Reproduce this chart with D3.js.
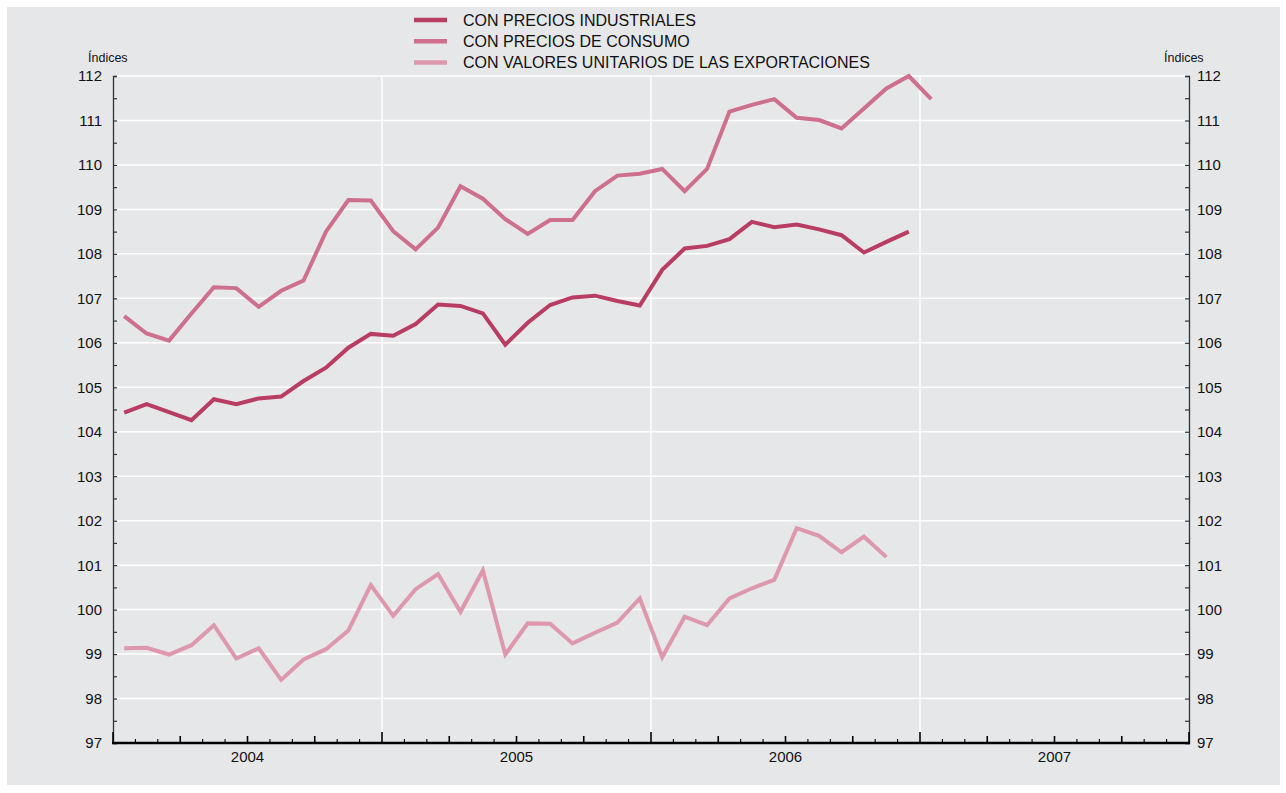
<!DOCTYPE html>
<html>
<head>
<meta charset="utf-8">
<script src="https://cdn.jsdelivr.net/npm/d3@7"></script>
<style>
  html, body { margin: 0; padding: 0; background: #ffffff; }
  svg { display: block; font-family: "Liberation Sans", Arial, Helvetica, sans-serif; }
</style>
</head>
<body>
<svg id="chart" width="1286" height="793"></svg>
<script>
// ---- Data (monthly, starting January 2004) ----
const years = ["2004", "2005", "2006", "2007"];
const seriesNames = [
  "CON PRECIOS INDUSTRIALES",
  "CON PRECIOS DE CONSUMO",
  "CON VALORES UNITARIOS DE LAS EXPORTACIONES"
];
const industriales = [
  104.43, 104.62, 104.44, 104.26, 104.73, 104.62, 104.75, 104.79, 105.14, 105.44,
  105.89, 106.20, 106.16, 106.42, 106.86, 106.83, 106.66, 105.96, 106.45, 106.85,
  107.02, 107.06, 106.94, 106.84, 107.64, 108.12, 108.18, 108.33, 108.72, 108.60,
  108.66, 108.55, 108.42, 108.03, 108.27, 108.50
];
const consumo = [
  106.60, 106.21, 106.05, 106.66, 107.25, 107.23, 106.81, 107.17, 107.40, 108.50,
  109.21, 109.20, 108.51, 108.10, 108.59, 109.52, 109.24, 108.78, 108.45, 108.76,
  108.76, 109.41, 109.76, 109.80, 109.91, 109.41, 109.91, 111.20, 111.35, 111.48,
  111.06, 111.01, 110.82, 111.27, 111.72, 112.00, 111.48
];
const exportaciones = [
  99.13, 99.14, 98.99, 99.20, 99.65, 98.90, 99.13, 98.42, 98.88, 99.11,
  99.53, 100.55, 99.86, 100.46, 100.80, 99.95, 100.88, 98.99, 99.69, 99.68,
  99.24, 99.48, 99.71, 100.25, 98.93, 99.84, 99.65, 100.25, 100.48, 100.67,
  101.83, 101.66, 101.29, 101.64, 101.18
];
const yTicks = [97, 98, 99, 100, 101, 102, 103, 104, 105, 106, 107, 108, 109, 110, 111, 112];
const colors = ["#b93d63", "#cd6f8d", "#dd98ad"];

// ---- Layout ----
const svg = d3.select("#chart");
const L = 113, R = 1189, T = 76, B = 743;
const nMonths = years.length * 12;

svg.append("rect").attr("x", 7).attr("y", 7).attr("width", 1273).attr("height", 778)
  .attr("fill", "#e6e7e9");

const x = d3.scaleLinear().domain([0, nMonths]).range([L, R]);
const y = d3.scaleLinear().domain([97, 112]).range([B, T]);

// Grid lines
const grid = svg.append("g");
grid.selectAll("line.h").data(yTicks.filter(v => v > 97)).join("line")
  .attr("x1", L).attr("x2", R).attr("y1", d => y(d)).attr("y2", d => y(d))
  .attr("stroke", "#ffffff").attr("stroke-width", 1.5);
grid.selectAll("line.v").data(d3.range(12, nMonths, 12)).join("line")
  .attr("x1", d => x(d)).attr("x2", d => x(d)).attr("y1", T).attr("y2", B)
  .attr("stroke", "#ffffff").attr("stroke-width", 1.5);

// Y axes (ticks pointing inward)
const halfTicks = d3.range(97, 112.01, 0.5);
const axL = d3.axisRight(y).tickValues(halfTicks).tickSize(4).tickFormat("");
const axR = d3.axisLeft(y).tickValues(halfTicks).tickSize(4).tickFormat("");
[svg.append("g").attr("transform", `translate(${L},0)`).call(axL),
 svg.append("g").attr("transform", `translate(${R},0)`).call(axR)].forEach(g => {
  g.select(".domain").attr("stroke", "#333").attr("stroke-width", 1.3);
  g.selectAll(".tick line").attr("stroke", "#333").attr("stroke-width", 1.2);
});

// Y tick labels
svg.append("g").selectAll("text").data(yTicks).join("text")
  .attr("x", 102).attr("y", d => y(d)).attr("dy", "0.36em")
  .attr("text-anchor", "end").attr("font-size", 15).attr("fill", "#111")
  .text(d => d);
svg.append("g").selectAll("text").data(yTicks).join("text")
  .attr("x", 1197).attr("y", d => y(d)).attr("dy", "0.36em")
  .attr("text-anchor", "start").attr("font-size", 15).attr("fill", "#111")
  .text(d => d);

svg.append("text").attr("x", 88).attr("y", 62).attr("font-size", 12.5).attr("fill", "#111").text("Índices");
svg.append("text").attr("x", 1164).attr("y", 62).attr("font-size", 12.5).attr("fill", "#111").text("Índices");

// X axis
const xg = svg.append("g");
xg.selectAll("line").data(d3.range(0, nMonths + 1)).join("line")
  .attr("x1", d => x(d)).attr("x2", d => x(d))
  .attr("y1", B).attr("y2", d => B - (d % 12 === 0 ? 11 : d % 3 === 0 ? 7 : 4))
  .attr("stroke", "#000").attr("stroke-width", d => d % 3 === 0 ? 1.6 : 1.1);
xg.append("line").attr("x1", L - 1).attr("x2", R + 1).attr("y1", B).attr("y2", B)
  .attr("stroke", "#000").attr("stroke-width", 2.5);
xg.selectAll("text").data(years).join("text")
  .attr("x", (d, i) => x(i * 12 + 6)).attr("y", 762)
  .attr("text-anchor", "middle").attr("font-size", 15).attr("fill", "#111")
  .text(d => d);

// Lines
const line = d3.line().x((d, i) => x(i + 0.5)).y(d => y(d));
const allSeries = [industriales, consumo, exportaciones];
// draw exports first, then consumer, then industrial on top
[2, 1, 0].forEach(k => {
  svg.append("path").datum(allSeries[k])
    .attr("d", line).attr("fill", "none")
    .attr("stroke", colors[k]).attr("stroke-width", 4)
    .attr("stroke-linejoin", "miter").attr("stroke-miterlimit", 4);
});

// Legend
const lg = svg.append("g");
seriesNames.forEach((name, k) => {
  const ly = 20 + k * 21.2;
  lg.append("line").attr("x1", 414).attr("x2", 447).attr("y1", ly).attr("y2", ly)
    .attr("stroke", colors[k]).attr("stroke-width", 4.5);
  lg.append("text").attr("x", 463).attr("y", ly).attr("dy", "0.36em")
    .attr("font-size", 16).attr("fill", "#111").text(name);
});
</script>
</body>
</html>
